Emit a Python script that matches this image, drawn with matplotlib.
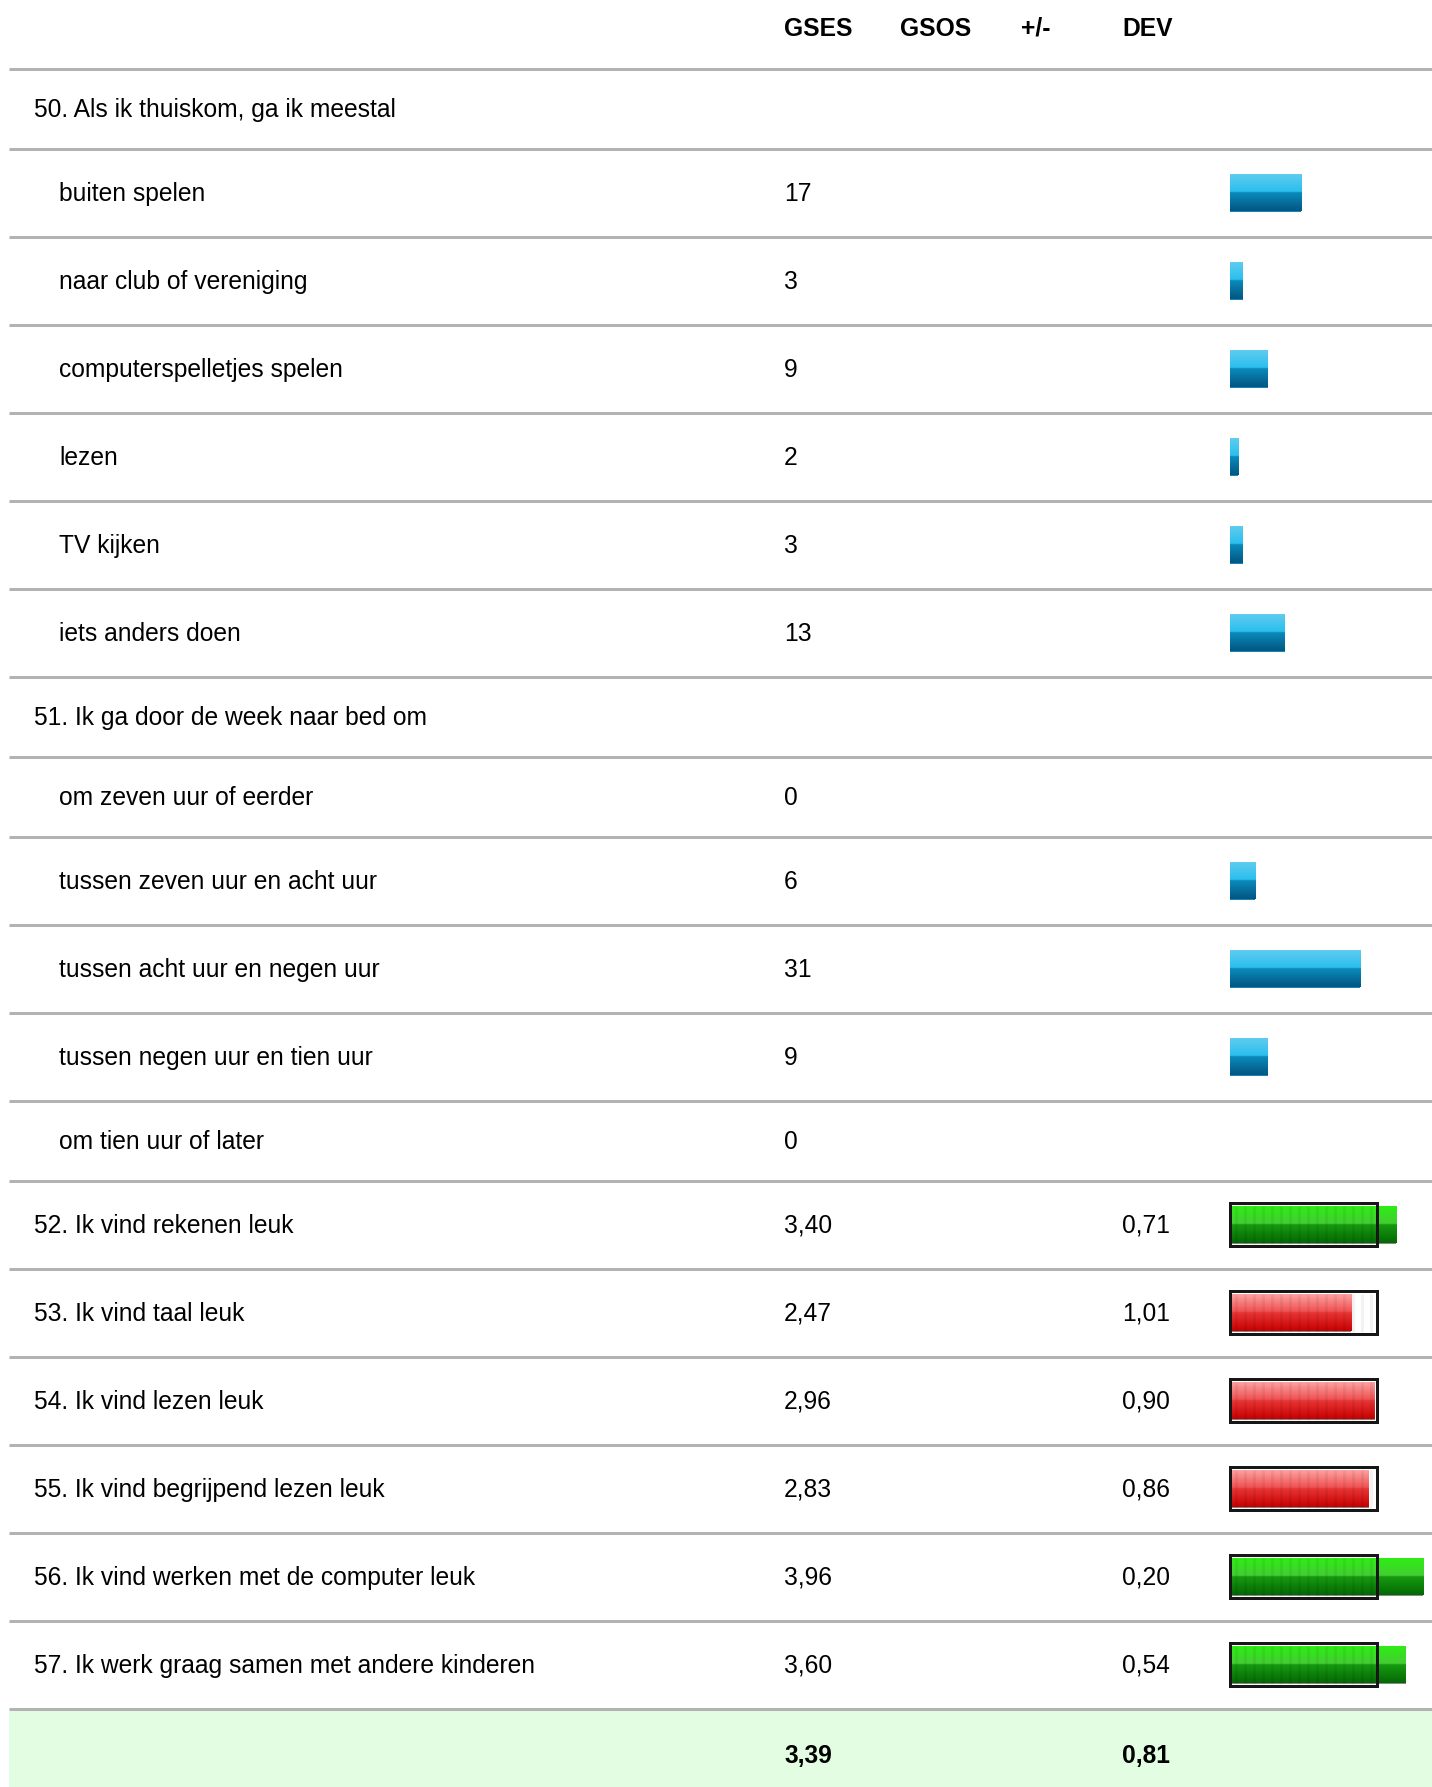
"""
Recreate the GSES/GSOS survey table: one row per answer, counts as blue bars,
means as green/red bars in a fixed frame.
Writes out.png (1432x1787).
"""
import numpy as np
import matplotlib
matplotlib.use("Agg")
import matplotlib.pyplot as plt
from matplotlib.patches import Rectangle
from matplotlib.colors import to_rgb

W, H = 1432, 1787
DPI = 100
plt.rcParams["font.family"] = ["Liberation Sans", "DejaVu Sans"]

# ---- data ----
HEADERS = ["GSES", "GSOS", "+/-", "DEV"]

Q50_TITLE = "50. Als ik thuiskom, ga ik meestal"
Q50_OPTIONS = [
    "buiten spelen",
    "naar club of vereniging",
    "computerspelletjes spelen",
    "lezen",
    "TV kijken",
    "iets anders doen",
]
Q50_COUNTS = [17, 3, 9, 2, 3, 13]

Q51_TITLE = "51. Ik ga door de week naar bed om"
Q51_OPTIONS = [
    "om zeven uur of eerder",
    "tussen zeven uur en acht uur",
    "tussen acht uur en negen uur",
    "tussen negen uur en tien uur",
    "om tien uur of later",
]
Q51_COUNTS = [0, 6, 31, 9, 0]

MEAN_ITEMS = [
    "52. Ik vind rekenen leuk",
    "53. Ik vind taal leuk",
    "54. Ik vind lezen leuk",
    "55. Ik vind begrijpend lezen leuk",
    "56. Ik vind werken met de computer leuk",
    "57. Ik werk graag samen met andere kinderen",
]
MEAN_GSES = [3.40, 2.47, 2.96, 2.83, 3.96, 3.60]
MEAN_DEV = [0.71, 1.01, 0.90, 0.86, 0.20, 0.54]

TOTAL_GSES = 3.39
TOTAL_DEV = 0.81

# ---- layout (pixels) ----
FS = 17.75
HEADER_X = [784, 900, 1021, 1122]
HEADER_BASE = 36
FIRST_LINE = 68.5
X_SECTION = 34
X_OPTION = 59
X_GSES = 784
X_DEV = 1122
BASE_OFF = 8.5           # baseline below row centre
SUMMARY_BASE = 1763
LINE_X0 = 9
LINE_LW = 3 * 72 / DPI
LINE_COLOR = "#b3b3b3"
CNT_X0, CNT_PX = 1230, 4.2      # count bars: left edge, px per respondent
MEAN_X0, MEAN_PX = 1232, 48.3   # mean bars: left edge, px per scale point
BAR_H = 38
FRAME = (1229.5, 1376.5)        # outer frame around mean bars
FRAME_H = 43
SUMMARY_BG = "#e2fde2"

BLUE = [(0.0, "#63ccef"), (0.49, "#29bfed"), (0.51, "#0a8bbb"), (1.0, "#045682")]
GREEN = [(0.0, "#2cf012"), (0.49, "#44cc33"), (0.51, "#169c10"), (1.0, "#046804")]
RED = [(0.0, "#ffa6a6"), (0.49, "#f05050"), (0.51, "#e83636"), (1.0, "#c80000")]


def fmt(v):
    return f"{v:.2f}".replace(".", ",")


def gradient(stops, n=64):
    pos = np.array([s[0] for s in stops])
    cols = np.array([to_rgb(s[1]) for s in stops])
    t = np.linspace(0, 1, n)
    rgb = np.stack([np.interp(t, pos, cols[:, k]) for k in range(3)], axis=1)
    return rgb[:, None, :]


def fill_bars(ax, bars, stops_for):
    for bar, stops in zip(bars, stops_for):
        w = bar.get_width()
        if w <= 0:
            continue
        x, y, h = bar.get_x(), bar.get_y(), bar.get_height()
        im = ax.imshow(gradient(stops), extent=[x, x + w, y + h, y],
                       aspect="auto", origin="upper", interpolation="bilinear",
                       zorder=3)
        im.set_clip_path(bar)


# rows: (kind, label, value, dev)
rows = [("section", Q50_TITLE, None, None)]
rows += [("count", lab, n, None) for lab, n in zip(Q50_OPTIONS, Q50_COUNTS)]
rows += [("section", Q51_TITLE, None, None)]
rows += [("count", lab, n, None) for lab, n in zip(Q51_OPTIONS, Q51_COUNTS)]
rows += [("mean", lab, m, d) for lab, m, d in zip(MEAN_ITEMS, MEAN_GSES, MEAN_DEV)]

y = FIRST_LINE
line_ys = [y]
centers = []
for kind, lab, val, dev in rows:
    h = 88 if (kind == "mean" or (kind == "count" and val > 0)) else 80
    centers.append(y + h / 2)
    y += h
    line_ys.append(y)
summary_top = line_ys[-1]

fig = plt.figure(figsize=(W / DPI, H / DPI), dpi=DPI)
ax = fig.add_axes([0, 0, 1, 1])
ax_cnt = fig.add_axes([CNT_X0 / W, 0, (W - CNT_X0) / W, 1])
ax_mean = fig.add_axes([MEAN_X0 / W, 0, (W - MEAN_X0) / W, 1])
for a in (ax, ax_cnt, ax_mean):
    a.set_axis_off()
    a.patch.set_alpha(0)

# header
for lab, x in zip(HEADERS, HEADER_X):
    ax.text(x, HEADER_BASE, lab, fontsize=FS, fontweight="bold", va="baseline")

# summary background
ax.add_patch(Rectangle((LINE_X0, summary_top), W - LINE_X0, H - summary_top,
                       color=SUMMARY_BG, zorder=0, lw=0))
ax.hlines(line_ys, LINE_X0, W, colors=LINE_COLOR, lw=LINE_LW, zorder=1)

cnt_y, cnt_v = [], []
mean_y, mean_v = [], []
for (kind, lab, val, dev), c in zip(rows, centers):
    base = c + BASE_OFF
    if kind == "section":
        ax.text(X_SECTION, base, lab, fontsize=FS, va="baseline")
    elif kind == "count":
        ax.text(X_OPTION, base, lab, fontsize=FS, va="baseline")
        ax.text(X_GSES, base, str(val), fontsize=FS, va="baseline")
        cnt_y.append(c)
        cnt_v.append(val)
    else:
        ax.text(X_SECTION, base, lab, fontsize=FS, va="baseline")
        ax.text(X_GSES, base, fmt(val), fontsize=FS, va="baseline")
        ax.text(X_DEV, base, fmt(dev), fontsize=FS, va="baseline")
        mean_y.append(c)
        mean_v.append(val)

ax.text(X_GSES, SUMMARY_BASE, fmt(TOTAL_GSES), fontsize=FS,
        fontweight="bold", va="baseline")
ax.text(X_DEV, SUMMARY_BASE, fmt(TOTAL_DEV), fontsize=FS,
        fontweight="bold", va="baseline")

# count bars
bars = ax_cnt.barh(cnt_y, cnt_v, height=BAR_H, left=0, color="#0a8bbb", lw=0, zorder=2)
fill_bars(ax_cnt, bars, [BLUE] * len(cnt_v))

# mean bars (green when >= 3, red below)
bars = ax_mean.barh(mean_y, mean_v, height=BAR_H, left=0, color="#888888", lw=0, zorder=2)
fill_bars(ax_mean, bars, [GREEN if v >= 3 else RED for v in mean_v])

# frames with faint stripes
for c in mean_y:
    xs = np.arange(FRAME[0] + 6, FRAME[1] - 2, 9)
    ax.vlines(xs, c - BAR_H / 2, c + BAR_H / 2, colors=(0, 0, 0, 0.05),
              lw=3 * 72 / DPI, zorder=4)
    ax.add_patch(Rectangle((FRAME[0], c - FRAME_H / 2), FRAME[1] - FRAME[0], FRAME_H,
                           fill=False, ec="#161616", lw=3 * 72 / DPI, zorder=5))

ax.set_xlim(0, W)
ax.set_ylim(H, 0)
ax_cnt.set_xlim(0, (W - CNT_X0) / CNT_PX)
ax_cnt.set_ylim(H, 0)
ax_mean.set_xlim(0, (W - MEAN_X0) / MEAN_PX)
ax_mean.set_ylim(H, 0)

# frame must sit above the mean bars: keep main axes on top
ax.set_zorder(3)

fig.savefig("out.png", dpi=DPI)
